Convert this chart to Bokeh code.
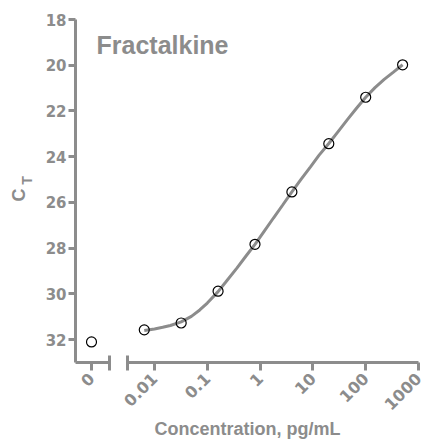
from bokeh.plotting import figure
from bokeh.models import (Range1d, LinearScale, LinearAxis, FixedTicker,
                          CustomJSTickFormatter, Label)
from bokeh.embed import file_html
from bokeh.resources import INLINE

# ---- data ----
conc = [0.0064, 0.032, 0.16, 0.8, 4, 20, 100, 500]
ct = [31.57, 31.27, 29.88, 27.83, 25.54, 23.43, 21.40, 19.98]
zero_conc = [0]
zero_ct = [32.1]
fit_conc = [0.0064, 0.01, 0.0143, 0.02, 0.032, 0.05, 0.072, 0.1, 0.16, 0.22,
            0.36, 0.55, 0.8, 1.2, 1.79, 2.7, 4, 6, 9, 13, 20, 30, 45, 67,
            100, 150, 224, 335, 500]
fit_ct = [31.6, 31.53, 31.46, 31.38, 31.22, 30.98, 30.7, 30.4, 29.9, 29.5,
          28.88, 28.32, 27.83, 27.25, 26.68, 26.1, 25.54, 24.98, 24.44, 23.94,
          23.42, 22.9, 22.38, 21.88, 21.4, 20.98, 20.62, 20.3, 19.98]
y_ticks = [18, 20, 22, 24, 26, 28, 30, 32]
x_ticks = [0.01, 0.1, 1, 10, 100, 1000]
x_tick_labels = ["0.01", "0.1", "1", "10", "100", "1000"]
zero_ticks = [0]
title_text = "Fractalkine"
x_label = "Concentration, pg/mL"
y_label_main = "C"
y_label_sub = "T"

GRAY = "#8c8c8c"
FONT = "Liberation Sans"
TICK_FONT = "DejaVu Sans"
W, H = 427, 440

# ---- geometry (pixels) ----
DEC = 52.8          # px per decade
X001 = 154          # pixel of 0.01
X_AXIS_PX = 75      # pixel of y axis line
ZERO_PX = 91        # pixel of the "0" category
ZUNIT = 16.0        # px per unit of zero range
Y_TOP_PX = 19       # pixel of ct = 18
YUNIT = 22.87       # px per ct unit

x_lo = 10 ** (-2 - X001 / DEC)
x_hi = 10 ** (-2 + (W - X001) / DEC)
y_axis_at = 10 ** (-2 - (X001 - X_AXIS_PX) / DEC)
cap_log = 10 ** -2.51
y_lo_val = 18 - Y_TOP_PX / YUNIT
y_hi_val = 18 + (H - Y_TOP_PX) / YUNIT
y_axis_bottom = 33
z_lo = -ZERO_PX / ZUNIT
z_hi = (W - ZERO_PX) / ZUNIT
z_start = -(ZERO_PX - X_AXIS_PX) / ZUNIT
cap_zero = 1.1

p = figure(width=W, height=H, x_axis_type="log",
           x_range=Range1d(x_lo, x_hi), y_range=Range1d(y_hi_val, y_lo_val),
           output_backend="svg", toolbar_location=None, min_border=0)
p.extra_x_ranges = {"zero": Range1d(z_lo, z_hi)}
p.extra_x_scales = {"zero": LinearScale()}
p.grid.visible = False
p.outline_line_color = None
p.background_fill_color = "white"
p.border_fill_color = "white"


def style_axis(ax, size):
    ax.axis_line_color = GRAY
    ax.axis_line_width = 3
    ax.major_tick_line_color = GRAY
    ax.major_tick_line_width = 3
    ax.major_tick_in = 0
    ax.major_tick_out = 8
    ax.minor_tick_line_color = GRAY
    ax.minor_tick_line_width = 3
    ax.major_label_text_color = GRAY
    ax.major_label_text_font = TICK_FONT
    ax.major_label_text_font_style = "bold"
    ax.major_label_text_font_size = size


# y axis
ya = p.yaxis[0]
style_axis(ya, "15px")
ya.fixed_location = y_axis_at
ya.ticker = FixedTicker(ticks=y_ticks)
ya.bounds = (18, y_axis_bottom)
ya.major_tick_out = 7
ya.major_label_standoff = 2

# log x axis (right segment)
xa = p.xaxis[0]
style_axis(xa, "16px")
xa.fixed_location = y_axis_bottom
xa.ticker = FixedTicker(ticks=x_ticks, minor_ticks=[cap_log])
xa.bounds = (cap_log, 1000)
xa.minor_tick_in = 7
xa.minor_tick_out = 8
xa.formatter = CustomJSTickFormatter(args=dict(labels=x_tick_labels),
                                     code="return labels[index];")
xa.major_label_orientation = 0.785398
xa.major_label_standoff = 5

# zero segment axis
za = LinearAxis(x_range_name="zero", fixed_location=y_axis_bottom,
                ticker=FixedTicker(ticks=zero_ticks, minor_ticks=[cap_zero]),
                bounds=(z_start, cap_zero))
style_axis(za, "16px")
za.minor_tick_in = 7
za.minor_tick_out = 8
za.major_label_orientation = 0.785398
za.major_label_standoff = 5
p.add_layout(za, "below")

# fitted curve and points
p.line(fit_conc, fit_ct, line_color=GRAY, line_width=3)
p.scatter(conc, ct, marker="circle", size=10, fill_color=None,
          line_color="black", line_width=1.2)
p.scatter(zero_conc, zero_ct, x_range_name="zero", marker="circle", size=10,
          fill_color=None, line_color="black", line_width=1.2)


def add_text(txt, x, y, size, angle=0.0, align="left"):
    p.add_layout(Label(x=x, y=H - y, x_units="screen", y_units="screen",
                       text=txt, angle=angle, text_font=FONT,
                       text_font_style="bold", text_font_size=size,
                       text_color=GRAY, text_align=align,
                       text_baseline="middle"))


add_text(title_text, 96, 44, "25px")
add_text(x_label, 247, 428.5, "18px", align="center")
add_text(y_label_main, 18.5, 194.5, "18px", angle=1.5708, align="center")
add_text(y_label_sub, 26, 180, "14px", angle=1.5708, align="center")

open("out.html", "w").write(file_html(p, INLINE))
